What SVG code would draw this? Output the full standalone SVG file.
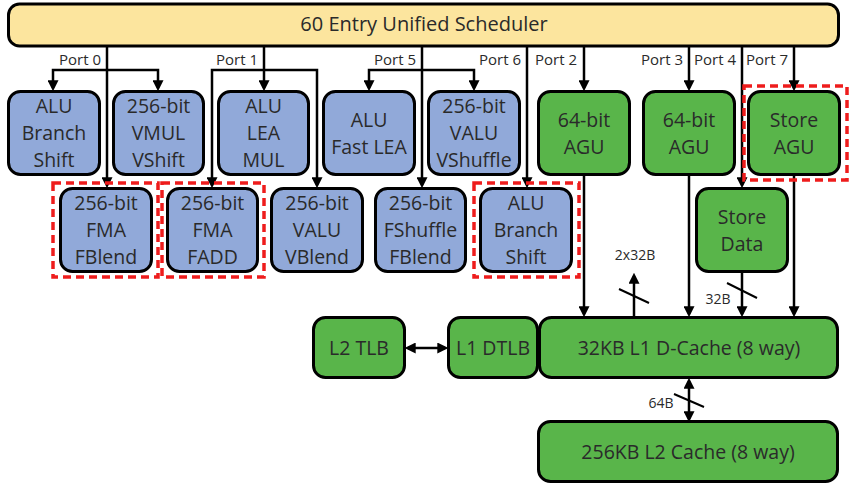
<svg xmlns="http://www.w3.org/2000/svg" width="850" height="488" viewBox="0 0 850 488">
<defs>
<style>
.n{stroke:#000;stroke-width:3}
.b{fill:#91a9d9}
.g{fill:#59b54a}
.y{fill:#fce59e}
.t{font-family:"Open Sans","Liberation Sans",sans-serif;font-size:19.5px;fill:#2a2a2a;text-anchor:middle}
.p{font-family:"Open Sans","Liberation Sans",sans-serif;font-size:15px;fill:#2a2a2a}
.s{font-family:"Open Sans","Liberation Sans",sans-serif;font-size:14px;fill:#2a2a2a;text-anchor:middle}
.c{fill:none;stroke:#000;stroke-width:2.5}
.sl{fill:none;stroke:#000;stroke-width:2}
.r{fill:none;stroke:#ee1c1c;stroke-width:3.5;stroke-dasharray:8 5}
</style>
<marker id="a" viewBox="0 0 10 10" refX="7" refY="5" markerWidth="11" markerHeight="11" markerUnits="userSpaceOnUse" orient="auto-start-reverse">
<path d="M0,0 L10,5 L0,10 z" fill="#000"/>
</marker>
</defs>
<rect width="850" height="488" fill="#fff"/>

<g id="connectors">
<!-- Port 0 -->
<path class="c" d="M107,46 V185" marker-end="url(#a)"/>
<path class="c" d="M53,88 V70 H158 V88" marker-start="url(#a)" marker-end="url(#a)"/>
<!-- Port 1 -->
<path class="c" d="M264,46 V88" marker-end="url(#a)"/>
<path class="c" d="M212,185 V70 H317 V185" marker-start="url(#a)" marker-end="url(#a)"/>
<!-- Port 5 -->
<path class="c" d="M422,46 V185" marker-end="url(#a)"/>
<path class="c" d="M369,88 V70 H474 V88" marker-start="url(#a)" marker-end="url(#a)"/>
<!-- Port 6 -->
<path class="c" d="M527,46 V185" marker-end="url(#a)"/>
<!-- Port 2 -->
<path class="c" d="M584,46 V88" marker-end="url(#a)"/>
<path class="c" d="M584,175 V314" marker-end="url(#a)"/>
<!-- Port 3 -->
<path class="c" d="M689,46 V88" marker-end="url(#a)"/>
<path class="c" d="M689,175 V314" marker-end="url(#a)"/>
<!-- Port 4 -->
<path class="c" d="M742,46 V185" marker-end="url(#a)"/>
<path class="c" d="M742,272 V314" marker-end="url(#a)"/>
<!-- Port 7 -->
<path class="c" d="M794,46 V88" marker-end="url(#a)"/>
<path class="c" d="M794,175 V314" marker-end="url(#a)"/>
<!-- 2x32B -->
<path class="c" d="M634,317 V276" marker-end="url(#a)"/>
<path class="sl" d="M619,289 L649,303"/>
<!-- 32B slash -->
<path class="sl" d="M727,283 L757,298"/>
<!-- TLB -->
<path class="c" d="M408,348 H445" marker-start="url(#a)" marker-end="url(#a)"/>
<!-- L1-L2 -->
<path class="c" d="M689,381 V419" marker-start="url(#a)" marker-end="url(#a)"/>
<path class="sl" d="M674,394 L704,407"/>
<!-- labels -->
<text class="p" x="101" y="65" text-anchor="end">Port 0</text>
<text class="p" x="258" y="65" text-anchor="end">Port 1</text>
<text class="p" x="416" y="65" text-anchor="end">Port 5</text>
<text class="p" x="521" y="65" text-anchor="end">Port 6</text>
<text class="p" x="535" y="65">Port 2</text>
<text class="p" x="683" y="65" text-anchor="end">Port 3</text>
<text class="p" x="736" y="65" text-anchor="end">Port 4</text>
<text class="p" x="746" y="65">Port 7</text>
<text class="s" x="635" y="260">2x32B</text>
<text class="s" x="718" y="304">32B</text>
<text class="s" x="661" y="408">64B</text>
</g>

<g id="scheduler"><rect class="n y" x="8.5" y="4" width="830" height="42" rx="11"/><text class="t" x="424" y="31" style="font-size:20px">60 Entry Unified Scheduler</text></g>

<g id="alu0"><rect class="n b" x="8.5" y="91.5" width="91" height="83" rx="12"/><text class="t" x="54" y="113">ALU</text><text class="t" x="54" y="140">Branch</text><text class="t" x="54" y="167">Shift</text></g>
<g id="vmul"><rect class="n b" x="113.5" y="91.5" width="90" height="83" rx="12"/><text class="t" x="158.5" y="113">256-bit</text><text class="t" x="158.5" y="140">VMUL</text><text class="t" x="158.5" y="167">VShift</text></g>
<g id="alu1"><rect class="n b" x="218.5" y="91.5" width="90" height="83" rx="12"/><text class="t" x="263.5" y="113">ALU</text><text class="t" x="263.5" y="140">LEA</text><text class="t" x="263.5" y="167">MUL</text></g>
<g id="alu5"><rect class="n b" x="323.5" y="91.5" width="91" height="83" rx="12"/><text class="t" x="369" y="126.5">ALU</text><text class="t" x="369" y="153.5">Fast LEA</text></g>
<g id="valu5"><rect class="n b" x="428.5" y="91.5" width="91" height="83" rx="12"/><text class="t" x="474" y="113">256-bit</text><text class="t" x="474" y="140">VALU</text><text class="t" x="474" y="167">VShuffle</text></g>
<g id="agu2"><rect class="n g" x="538.5" y="91.5" width="91" height="83" rx="12"/><text class="t" x="584" y="126.5">64-bit</text><text class="t" x="584" y="153.5">AGU</text></g>
<g id="agu3"><rect class="n g" x="643.5" y="91.5" width="91" height="83" rx="12"/><text class="t" x="689" y="126.5">64-bit</text><text class="t" x="689" y="153.5">AGU</text></g>
<g id="sagu"><rect class="n g" x="748.5" y="91.5" width="91" height="83" rx="12"/><text class="t" x="794" y="126.5">Store</text><text class="t" x="794" y="153.5">AGU</text></g>

<g id="fma0"><rect class="n b" x="60.5" y="188.5" width="91" height="83" rx="12"/><text class="t" x="106" y="210">256-bit</text><text class="t" x="106" y="237">FMA</text><text class="t" x="106" y="264">FBlend</text></g>
<g id="fma1"><rect class="n b" x="167.5" y="188.5" width="90" height="83" rx="12"/><text class="t" x="212.5" y="210">256-bit</text><text class="t" x="212.5" y="237">FMA</text><text class="t" x="212.5" y="264">FADD</text></g>
<g id="valu1"><rect class="n b" x="271.5" y="188.5" width="91" height="83" rx="12"/><text class="t" x="317" y="210">256-bit</text><text class="t" x="317" y="237">VALU</text><text class="t" x="317" y="264">VBlend</text></g>
<g id="fshuf"><rect class="n b" x="375.5" y="188.5" width="90" height="83" rx="12"/><text class="t" x="420.5" y="210">256-bit</text><text class="t" x="420.5" y="237">FShuffle</text><text class="t" x="420.5" y="264">FBlend</text></g>
<g id="alu6"><rect class="n b" x="480.5" y="188.5" width="91" height="83" rx="12"/><text class="t" x="526" y="210">ALU</text><text class="t" x="526" y="237">Branch</text><text class="t" x="526" y="264">Shift</text></g>
<g id="sdata"><rect class="n g" x="696.5" y="188.5" width="91" height="83" rx="12"/><text class="t" x="742" y="223.5">Store</text><text class="t" x="742" y="250.5">Data</text></g>

<g id="l2tlb"><rect class="n g" x="313.5" y="317.5" width="91" height="60" rx="12"/><text class="t" x="359" y="355">L2 TLB</text></g>
<g id="l1dtlb"><rect class="n g" x="448.5" y="317.5" width="89" height="60" rx="12"/><text class="t" x="493" y="355">L1 DTLB</text></g>
<g id="l1d"><rect class="n g" x="539.5" y="317.5" width="298" height="60" rx="12"/><text class="t" x="689" y="355">32KB L1 D-Cache (8 way)</text></g>
<g id="l2"><rect class="n g" x="538.5" y="421.5" width="299" height="60" rx="12"/><text class="t" x="688" y="459">256KB L2 Cache (8 way)</text></g>

<g id="highlights">
<rect class="r" x="53" y="183" width="105" height="94"/>
<rect class="r" x="162" y="183" width="102" height="94"/>
<rect class="r" x="474" y="183" width="105" height="94"/>
<rect class="r" x="744" y="86" width="103" height="94"/>
</g>
</svg>
